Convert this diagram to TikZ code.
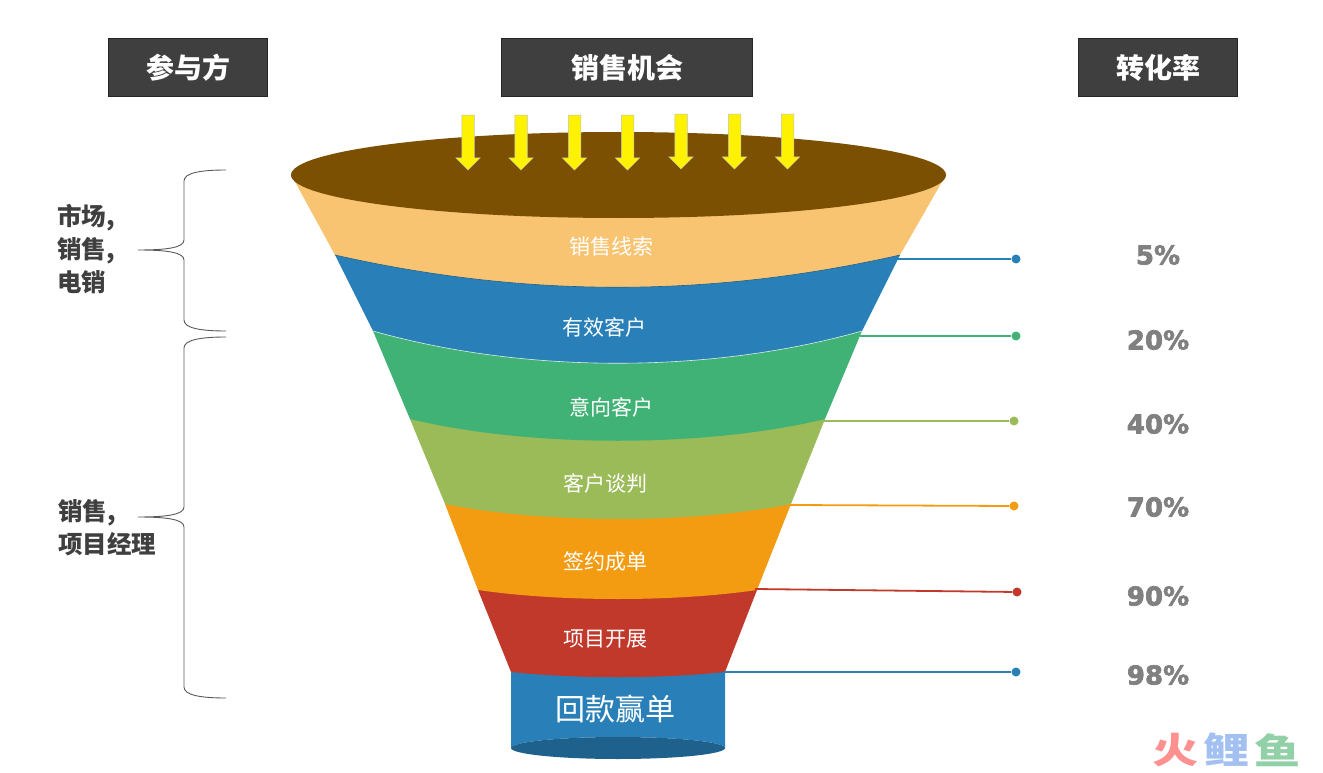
\documentclass[tikz,border=0pt]{standalone}
\usepackage{fontspec}
\usetikzlibrary{shapes.arrows}
\setmainfont{Noto Sans CJK SC}
\newfontfamily\pctfont{DejaVu Sans Bold}[FakeBold=2.5]
\definecolor{headgray}{HTML}{3F3F3F}
\definecolor{bandbrown}{HTML}{7B5003}
\definecolor{bandsand}{HTML}{F8C471}
\definecolor{bandblue}{HTML}{2980B9}
\definecolor{banddark}{HTML}{1F618D}
\definecolor{bandgreen}{HTML}{40B275}
\definecolor{bandolive}{HTML}{9BBB59}
\definecolor{bandorange}{HTML}{F39C12}
\definecolor{bandred}{HTML}{C0392B}
\definecolor{markred}{HTML}{FF9090}
\definecolor{markblue}{HTML}{A3C0F2}
\definecolor{markgreen}{HTML}{92D0A8}
\tikzset{
    headbox/.style={draw=black!85,fill=headgray,text=white,inner sep=0pt,minimum height=58,line width=1pt,
        font=\fontsize{28}{28}\selectfont\bfseries},
    bandtext/.style={text=white,inner sep=0pt,font=\fontsize{21}{21}\selectfont},
    sidetext/.style={text=headgray,anchor=west,align=left,inner sep=0pt,font=\fontsize{24.5}{33}\selectfont\bfseries},
    pcttext/.style={text=black!50,inner sep=0pt,font=\fontsize{26}{26}\selectfont\pctfont},
    inarrow/.style={single arrow,draw=black!25,line width=.5pt,fill=yellow,rotate=-90,inner sep=6pt,
        minimum height=55,single arrow head extend=6,single arrow tip angle=90},
    leaddot/.style={circle,inner sep=0pt,minimum size=9},
    leadline/.style={line width=1.8pt},
    bracket/.style={draw=black!65,line width=.9pt},
    marktext/.style={inner sep=0pt,xscale=1.1,yscale=.85,font=\fontsize{42}{42}\selectfont\bfseries}
}
\begin{document}
\begin{tikzpicture}[x=1pt,y=-1pt]
    \useasboundingbox (0,0) rectangle (1323,773);

    \node[headbox,minimum width=159] (party) at (188,68) {参与方};
    \node[headbox,minimum width=251] (chance) at (627,67.5) {销售机会};
    \node[headbox,minimum width=159] (rate) at (1158,67.5) {转化率};

    % funnel, lowest part first
    \fill[bandblue] (511,672) -- (511,748) arc[start angle=180,end angle=360,x radius=107,y radius=11] -- (725,672) -- cycle;
    \fill[banddark] (618,748) ellipse[x radius=107,y radius=11];
    \fill[bandred] (478,590) -- (511,672) .. controls (580,679) and (656,679) .. (725,672) -- (757,590) -- cycle;
    \fill[bandorange] (445,504) -- (478,590) .. controls (560,602) and (675,602) .. (757,590) -- (791,504) -- cycle;
    \fill[bandolive] (410,419) -- (445,504) .. controls (545,524) and (691,524) .. (791,504) -- (825,419) -- cycle;
    \fill[bandgreen] (373,331) -- (410,419) .. controls (530,448) and (705,448) .. (825,419) -- (862,331) -- cycle;
    \fill[bandblue] (335,255) -- (373,331) .. controls (525,374) and (710,374) .. (862,331) -- (900,255) -- cycle;
    \draw[white!80!bandgreen,line width=.6pt] (373,331) .. controls (525,374) and (710,374) .. (862,331);
    \fill[bandsand] (294,180) -- (335,255) .. controls (525,298) and (710,298) .. (900,255) -- (943,180) -- cycle;
    \draw[banddark,line width=.6pt] (335,255) .. controls (525,298) and (710,298) .. (900,255);
    \fill[bandbrown] (618.5,175) ellipse[x radius=327.5,y radius=43];

    \node[inarrow] (in1) at (468,139.5) {};
    \node[inarrow] (in2) at (521,139.5) {};
    \node[inarrow] (in3) at (574.5,139.5) {};
    \node[inarrow] (in4) at (627.5,139.5) {};
    \node[inarrow] (in5) at (681,138.5) {};
    \node[inarrow] (in6) at (734.5,138.5) {};
    \node[inarrow] (in7) at (787.5,138.5) {};

    \node[bandtext] (lead) at (611,247) {销售线索};
    \node[bandtext] (valid) at (604,327) {有效客户};
    \node[bandtext] (intent) at (611,407) {意向客户};
    \node[bandtext] (talk) at (605,483) {客户谈判};
    \node[bandtext] (sign) at (605,562) {签约成单};
    \node[bandtext] (proj) at (605,639) {项目开展};
    \node[bandtext,font=\fontsize{30}{30}\selectfont] (win) at (615,709) {回款赢单};

    % leaders to the rates
    \coordinate (edge1) at (897,259);
    \coordinate (edge2) at (860,336);
    \coordinate (edge3) at (822,421);
    \coordinate (edge4) at (789,505);
    \coordinate (edge5) at (755,589);
    \coordinate (edge6) at (724,672);
    \node[leaddot,fill=bandblue] (dot1) at (1016,259) {};
    \node[leaddot,fill=bandgreen] (dot2) at (1016,336) {};
    \node[leaddot,fill=bandolive] (dot3) at (1014,421) {};
    \node[leaddot,fill=bandorange] (dot4) at (1014,506) {};
    \node[leaddot,fill=bandred] (dot5) at (1017,592) {};
    \node[leaddot,fill=bandblue] (dot6) at (1016,672) {};
    \draw[leadline,bandblue] (edge1) -- (dot1);
    \draw[leadline,bandgreen] (edge2) -- (dot2);
    \draw[leadline,bandolive] (edge3) -- (dot3);
    \draw[leadline,bandorange] (edge4) -- (dot4);
    \draw[leadline,bandred] (edge5) -- (dot5);
    \draw[leadline,bandblue] (edge6) -- (dot6);

    \node[pcttext] (pct1) at (1158,255) {5\%};
    \node[pcttext] (pct2) at (1158,340) {20\%};
    \node[pcttext] (pct3) at (1158,424) {40\%};
    \node[pcttext] (pct4) at (1158,507) {70\%};
    \node[pcttext] (pct5) at (1158,596) {90\%};
    \node[pcttext] (pct6) at (1158,675) {98\%};

    \draw[bracket] (226,170) .. controls (200,170) and (184,173) .. (184,181) -- (184,240)
        .. controls (184,248) and (165,250) .. (138,250) .. controls (165,250) and (184,252) .. (184,260)
        -- (184,320) .. controls (184,328) and (200,331) .. (226,331);
    \draw[bracket] (226,337) .. controls (200,337) and (184,340) .. (184,348) -- (184,507)
        .. controls (184,515) and (165,517) .. (138,517) .. controls (165,517) and (184,519) .. (184,527)
        -- (184,687) .. controls (184,695) and (200,698) .. (226,698);

    \node[sidetext] (who1) at (57,249) {市场,\\销售,\\电销};
    \node[sidetext] (who2) at (58,527.5) {销售,\\项目经理};

    \node[marktext,text=markred] (mark1) at (1176,750) {火};
    \node[marktext,text=markblue] (mark2) at (1227,750) {鲤};
    \node[marktext,text=markgreen] (mark3) at (1278,750) {鱼};
\end{tikzpicture}
\end{document}
